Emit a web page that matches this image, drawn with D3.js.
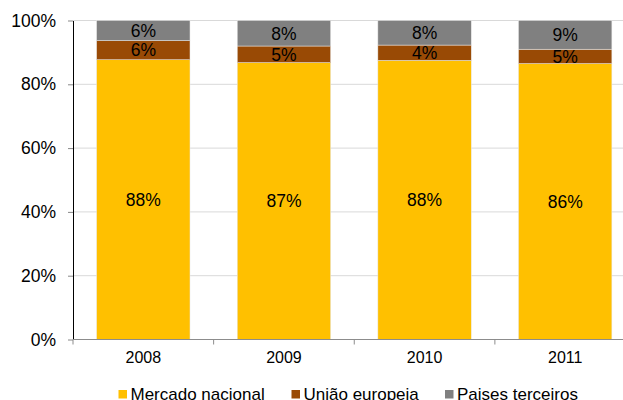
<!DOCTYPE html>
<html>
<head>
<meta charset="utf-8">
<script src="https://cdn.jsdelivr.net/npm/d3@7/dist/d3.min.js"></script>
<style>
  body { margin: 0; background: #fff; }
  text { font-family: "Liberation Sans", Arial, sans-serif; fill: #000; }
</style>
</head>
<body>
<div id="chart"></div>
<script>
const years = ['2008', '2009', '2010', '2011']
const seriesNames = ['Mercado nacional', 'União europeia', 'Paises terceiros']
const mercadoNacional = [87.7, 86.8, 87.5, 86.5]
const uniaoEuropeia = [6.0, 5.2, 4.8, 4.5]
const paisesTerceiros = [6.3, 8.0, 7.7, 9.0]
const valueLabels = [
  ['88%', '6%', '6%'],
  ['87%', '5%', '8%'],
  ['88%', '4%', '8%'],
  ['86%', '5%', '9%'],
]
const yTicks = [0, 20, 40, 60, 80, 100]
const colors = ['#FFC000', '#994A05', '#808080']

const width = 623
const height = 400
const plotLeft = 73
const plotRight = 635.5
const plotTop = 20.5
const plotBottom = 339.5

const svg = d3.select('#chart').append('svg').attr('width', width).attr('height', height)

const x = d3.scaleBand().domain(years).range([plotLeft, plotRight]).paddingInner(0.336).paddingOuter(0.168)
const y = d3.scaleLinear().domain([0, 100]).range([plotBottom, plotTop])

// gridlines
svg.append('g').selectAll('line').data(yTicks.filter(d => d > 0)).enter()
  .append('line')
  .attr('x1', plotLeft).attr('x2', width)
  .attr('y1', d => y(d)).attr('y2', d => y(d))
  .attr('stroke', '#d9d9d9').attr('stroke-width', 1)

// stacked data
const rows = years.map((yr, i) => ({
  year: yr,
  'Mercado nacional': mercadoNacional[i],
  'União europeia': uniaoEuropeia[i],
  'Paises terceiros': paisesTerceiros[i],
}))
const stacked = d3.stack().keys(seriesNames)(rows)

const layers = svg.append('g').selectAll('g').data(stacked).enter()
  .append('g').attr('fill', (d, i) => colors[i])

layers.selectAll('rect').data(d => d).enter()
  .append('rect')
  .attr('x', d => x(d.data.year))
  .attr('width', x.bandwidth())
  .attr('y', d => y(d[1]))
  .attr('height', d => y(d[0]) - y(d[1]))
  .attr('stroke', '#e8e8e8').attr('stroke-width', 0.5)

// value labels
stacked.forEach((layer, si) => {
  svg.append('g').selectAll('text').data(layer).enter()
    .append('text')
    .attr('x', d => x(d.data.year) + x.bandwidth() / 2)
    .attr('y', d => (y(d[0]) + y(d[1])) / 2)
    .attr('dy', '0.36em')
    .attr('text-anchor', 'middle')
    .attr('font-size', 17.5)
    .text((d, i) => valueLabels[i][si])
})

// y axis
const yAxisGroup = svg.append('g').attr('transform', `translate(${plotLeft},0)`)
  .call(d3.axisLeft(y).tickValues(yTicks).tickFormat(d => d + '%').tickSize(5).tickSizeOuter(0))
yAxisGroup.select('.domain').attr('stroke', '#000')
yAxisGroup.selectAll('.tick line').attr('stroke', '#888')
yAxisGroup.selectAll('.tick text')
  .attr('x', -17).attr('font-size', 17.5)
  .attr('font-family', '"Liberation Sans", Arial, sans-serif').attr('fill', '#000')

// x axis
const xAxisGroup = svg.append('g').attr('transform', `translate(0,${plotBottom})`)
xAxisGroup.append('line')
  .attr('x1', plotLeft).attr('x2', width)
  .attr('stroke', '#8c8c8c')
const boundaries = d3.range(years.length + 1).map(i => plotLeft + i * x.step())
xAxisGroup.selectAll('.btick').data(boundaries).enter()
  .append('line').attr('class', 'btick')
  .attr('x1', d => d).attr('x2', d => d)
  .attr('y1', 0).attr('y2', 5)
  .attr('stroke', '#8c8c8c')
xAxisGroup.selectAll('.xlabel').data(years).enter()
  .append('text').attr('class', 'xlabel')
  .attr('x', d => x(d) + x.bandwidth() / 2)
  .attr('y', 23)
  .attr('text-anchor', 'middle')
  .attr('font-size', 16)
  .text(d => d)

// legend
const legendX = [118.5, 291.5, 445]
const legend = svg.append('g').selectAll('g').data(seriesNames).enter()
  .append('g').attr('transform', (d, i) => `translate(${legendX[i]},390)`)
legend.append('rect').attr('width', 8.5).attr('height', 8.5).attr('fill', (d, i) => colors[i])
legend.append('text').attr('x', 12).attr('y', 9.8).attr('font-size', 17).text(d => d)
</script>
</body>
</html>
